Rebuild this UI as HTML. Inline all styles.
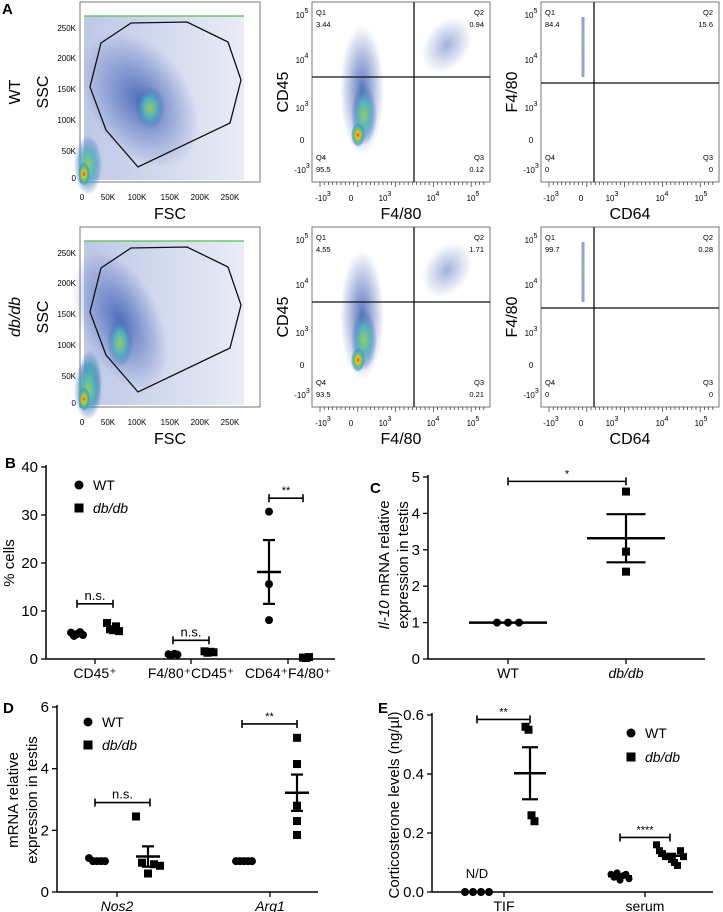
<!DOCTYPE html>
<html><head><meta charset="utf-8">
<style>
html,body{margin:0;padding:0;background:#fff;}
svg{display:block;font-family:"Liberation Sans",Arial,sans-serif;}
</style></head>
<body>
<svg id="fig" width="723" height="912" viewBox="0 0 723 912" xmlns="http://www.w3.org/2000/svg">
<defs>
 <radialGradient id="hot"><stop offset="0" stop-color="#e8241b"/><stop offset="0.25" stop-color="#f2c21a"/><stop offset="0.5" stop-color="#7cc455"/><stop offset="0.75" stop-color="#3aa7c8" stop-opacity="0.8"/><stop offset="1" stop-color="#3a5bb0" stop-opacity="0"/></radialGradient>
 <radialGradient id="warm"><stop offset="0" stop-color="#9acb5a"/><stop offset="0.45" stop-color="#4fb6c0" stop-opacity="0.9"/><stop offset="1" stop-color="#3a5bb0" stop-opacity="0"/></radialGradient>
 <radialGradient id="blue"><stop offset="0" stop-color="#3c5cb5" stop-opacity="0.85"/><stop offset="1" stop-color="#3c5cb5" stop-opacity="0"/></radialGradient>
 <linearGradient id="fscbg" x1="0" y1="0" x2="1" y2="0"><stop offset="0" stop-color="#4a66bb" stop-opacity="0.6"/><stop offset="1" stop-color="#4a66bb" stop-opacity="0.2"/></linearGradient>
 <filter id="blur"><feGaussianBlur stdDeviation="1.5"/></filter>
</defs>
<g id="layer"></g>
</svg>
<script>
const NS="http://www.w3.org/2000/svg";
const root=document.getElementById('layer');
function mk(tag,attrs,parent,txt){const e=document.createElementNS(NS,tag);for(const k in attrs)e.setAttribute(k,attrs[k]);if(txt!==undefined)e.textContent=txt;(parent||root).appendChild(e);return e;}

// ---------- Chart data ----------
const bCategories=["CD45⁺","F4/80⁺CD45⁺","CD64⁺F4/80⁺"];
const bWT=[[5.5,4.8,5.2,5.6,5.0],[1.0,0.8,1.1,0.9],[30.7,15.6,8.1]];
const bDB=[[7.5,6.2,6.0,6.8,5.8],[1.6,1.3,1.5,1.4],[0.3,0.2,0.4]];
const bTicks=[0,10,20,30,40];
const cCategories=["WT","db/db"];
const cValues=[[1,1,1],[4.6,2.95,2.4]];
const cTicks=[0,1,2,3,4,5];
const dCategories=["Nos2","Arg1"];
const dWT=[[1.1,1.0,1.0,1.0,1.0],[1.0,1.0,1.0,1.0,1.0]];
const dDB=[[2.45,0.95,0.6,0.9,0.85],[5.0,4.15,2.8,2.3,1.85]];
const dTicks=[0,2,4,6];
const eCategories=["TIF","serum"];
const eWT=[[0,0,0,0],[0.06,0.05,0.065,0.04,0.055,0.06,0.045]];
const eDB=[[0.56,0.55,0.26,0.24],[0.16,0.14,0.13,0.12,0.12,0.11,0.10,0.09,0.14,0.12]];
const eTicks=[0,0.2,0.4,0.6];

function mean(a){return a.reduce((s,v)=>s+v,0)/a.length;}
function sem(a){const m=mean(a);if(a.length<2)return 0;const v=a.reduce((s,x)=>s+(x-m)*(x-m),0)/(a.length-1);return Math.sqrt(v/a.length);}

function panelLetter(t,x,y){const e=mk('text',{x:x,y:y,'font-size':15,'font-weight':'bold'},root,t);

}

function dotPlot(cfg){
 const g=mk('g',{});
 
 
 const y=v=>cfg.y0-(v-cfg.vmin)/(cfg.vmax-cfg.vmin)*(cfg.y0-cfg.y1);
 mk('line',{x1:cfg.ax,y1:cfg.y1-2,x2:cfg.ax,y2:cfg.y0,stroke:'#000','stroke-width':1.5},g);
 mk('line',{x1:cfg.ax,y1:cfg.y0,x2:cfg.xEnd,y2:cfg.y0,stroke:'#000','stroke-width':1.5},g);
 cfg.ticks.forEach(t=>{const yy=y(t);mk('line',{x1:cfg.ax-5,y1:yy,x2:cfg.ax,y2:yy,stroke:'#000','stroke-width':1.3},g);
  const lab=mk('text',{x:cfg.ax-8,y:yy+5,'font-size':15,'text-anchor':'end'},g,cfg.tickFmt?cfg.tickFmt(t):t);
  });
 cfg.cats.forEach((c,i)=>{const xx=cfg.catX[i];
  mk('line',{x1:xx,y1:cfg.y0,x2:xx,y2:cfg.y0+5,stroke:'#000','stroke-width':1.3},g);
  const t=mk('text',{x:xx,y:cfg.y0+19,'font-size':14,'text-anchor':'middle','font-style':cfg.italicCats&&cfg.italicCats[i]?'italic':'normal'},g,c);
  });
 cfg.groups.forEach(gr=>{
  const vals=gr.vals, cx=gr.x, n=vals.length;
  vals.forEach((v,k)=>{const off=(k-(n-1)/2)*gr.spread;const yy=y(v);
   let m;
   if(gr.shape==='circle'){m=mk('circle',{cx:cx+off,cy:yy,r:gr.size/2,fill:'#000'},g);}
   else{m=mk('rect',{x:cx+off-gr.size/2,y:yy-gr.size/2,width:gr.size,height:gr.size,fill:'#000'},g);}
   
   
  });
  const m=mean(vals),s=sem(vals);
  const ml=mk('line',{x1:cx-gr.mw,y1:y(m),x2:cx+gr.mw,y2:y(m),stroke:'#000','stroke-width':2.5},g);
  
  if(s>0&&gr.mw>0){const ew=gr.mw*0.5;
   mk('line',{x1:cx,y1:y(m+s),x2:cx,y2:y(m-s),stroke:'#000','stroke-width':2.2},g);
   mk('line',{x1:cx-ew,y1:y(m+s),x2:cx+ew,y2:y(m+s),stroke:'#000','stroke-width':2.2},g);
   mk('line',{x1:cx-ew,y1:y(m-s),x2:cx+ew,y2:y(m-s),stroke:'#000','stroke-width':2.2},g);}
 });
 (cfg.sig||[]).forEach(sg=>{const yy=y(sg.v);
  const b=mk('g',{},g);
  
  
  mk('line',{x1:sg.x1,y1:yy,x2:sg.x2,y2:yy,stroke:'#000','stroke-width':1.6},b);
  mk('line',{x1:sg.x1,y1:yy-4,x2:sg.x1,y2:yy+4,stroke:'#000','stroke-width':1.6},b);
  mk('line',{x1:sg.x2,y1:yy-4,x2:sg.x2,y2:yy+4,stroke:'#000','stroke-width':1.6},b);
  mk('text',{x:(sg.x1+sg.x2)/2,y:yy-4,'font-size':sg.t==='n.s.'?13:11,'text-anchor':'middle'},b,sg.t);
 });
 return {g,y};
}
function legend(x,y,gap,parent,name){
 const g=mk('g',{},parent);
 
 
 mk('circle',{cx:x,cy:y,r:4.5,fill:'#000'},g);
 mk('text',{x:x+14,y:y+5,'font-size':14},g,'WT');
 mk('rect',{x:x-4.5,y:y+gap-4.5,width:9,height:9,fill:'#000'},g);
 mk('text',{x:x+14,y:y+gap+5,'font-size':14,'font-style':'italic'},g,'db/db');
}
function yTitle(lines,x,cy,parent,name){
 const t=mk('text',{transform:`translate(${x},${cy}) rotate(-90)`,'font-size':15,'text-anchor':'middle'},parent);
 
 
 lines.forEach((l,i)=>{const ts=mk('tspan',{x:0,dy:i===0?0:19},t);l.forEach(p=>{mk('tspan',{'font-style':p[1]?'italic':'normal'},ts,p[0]);});});
}

// ---------- Panel B ----------
panelLetter('B',5,468);
{const p=dotPlot({name:'panel-b-chart',ax:46,xEnd:335,y0:659,y1:467,vmin:0,vmax:40,ticks:bTicks,cats:bCategories,catX:[95,191,288],
 groups:[{vals:bWT[0],x:77,shape:'circle',size:8,spread:3,mw:0},{vals:bDB[0],x:113,shape:'square',size:8,spread:3,mw:0},
 {vals:bWT[1],x:173,shape:'circle',size:8,spread:3,mw:0},{vals:bDB[1],x:209,shape:'square',size:8,spread:3,mw:0},
 {vals:bWT[2],x:269,shape:'circle',size:8,spread:0,mw:12},{vals:bDB[2],x:306,shape:'square',size:8,spread:3,mw:0}],
 sig:[{x1:77,x2:113,v:11.5,t:'n.s.'},{x1:173,x2:209,v:3.9,t:'n.s.'},{x1:269,x2:303,v:33.5,t:'**'}]});
 legend(79,485,23,p.g,'panel-b-legend');
 yTitle([[['% cells',0]]],14,563,p.g,'panel-b-y-title');}

// ---------- Panel C ----------
panelLetter('C',370,493);
{const p=dotPlot({name:'panel-c-chart',ax:428,xEnd:705,y0:659,y1:477,vmin:0,vmax:5,ticks:cTicks,cats:cCategories,catX:[508,626],italicCats:[false,true],
 groups:[{vals:cValues[0],x:508,shape:'circle',size:8,spread:11,mw:39},{vals:cValues[1],x:626,shape:'square',size:8,spread:0,mw:39}],
 sig:[{x1:508,x2:626,v:4.88,t:'*'}]});
 yTitle([[['Il-10',1],[' mRNA relative',0]],[['expression in testis',0]]],389,565,p.g,'panel-c-y-title');}

// ---------- Panel D ----------
panelLetter('D',3,713);
{const p=dotPlot({name:'panel-d-chart',ax:57,xEnd:318,y0:892,y1:707,vmin:0,vmax:6,ticks:dTicks,cats:dCategories,catX:[117,270],italicCats:[true,true],
 groups:[{vals:dWT[0],x:97,shape:'circle',size:8,spread:4,mw:0},{vals:dDB[0],x:148,shape:'square',size:8,spread:6,mw:12},
 {vals:dWT[1],x:244,shape:'circle',size:8,spread:4,mw:0},{vals:dDB[1],x:297,shape:'square',size:8,spread:0,mw:12}],
 sig:[{x1:95,x2:150,v:2.9,t:'n.s.'},{x1:242,x2:297,v:5.45,t:'**'}]});
 legend(88,722,23,p.g,'panel-d-legend');
 yTitle([[['mRNA relative',0]],[['expression in testis',0]]],18,800,p.g,'panel-d-y-title');}

// ---------- Panel E ----------
panelLetter('E',378,713);
{const p=dotPlot({name:'panel-e-chart',ax:432,xEnd:713,y0:892,y1:715,vmin:0,vmax:0.6,ticks:eTicks,tickFmt:t=>t.toFixed(1),cats:eCategories,catX:[504,645],
 groups:[{vals:eWT[0],x:477,shape:'circle',size:8,spread:8,mw:0},{vals:eDB[0],x:530,shape:'square',size:8,spread:3,mw:16},
 {vals:eWT[1],x:620,shape:'circle',size:7,spread:3,mw:12},{vals:eDB[1],x:670,shape:'square',size:7,spread:3,mw:12}],
 sig:[{x1:477,x2:530,v:0.585,t:'**'},{x1:620,x2:670,v:0.185,t:'****'}]});
 mk('text',{x:477,y:878,'font-size':13,'text-anchor':'middle'},p.g,'N/D');
 legend(631,733,24,p.g,'panel-e-legend');
 yTitle([[['Corticosterone levels (ng/µl)',0]]],399,805,p.g,'panel-e-y-title');}

// ---------- Panel A (flow plots) ----------
panelLetter('A',2,14);
function flowFrame(x0,y0,w,h,name){
 const g=mk('g',{});
 
 
 mk('rect',{x:x0,y:y0,width:w,height:h,fill:'#fff',stroke:'#777','stroke-width':1},g);
 return g;}
function fscPlot(oy,variant,name){
 const g=flowFrame(80,oy+2,180,180,name);
 mk('rect',{x:84,y:oy+16,width:160,height:164,fill:'url(#fscbg)',opacity:0.6},g);
 mk('line',{x1:84,y1:oy+16,x2:244,y2:oy+16,stroke:'#6cc56a','stroke-width':1.5},g);
 if(variant===0){
  mk('ellipse',{cx:140,cy:oy+100,rx:50,ry:75,fill:'url(#blue)',transform:`rotate(-35 140 ${oy+100})`},g);
  mk('ellipse',{cx:150,cy:oy+108,rx:15,ry:22,fill:'url(#warm)'},g);
 }else{
  mk('ellipse',{cx:120,cy:oy+95,rx:40,ry:75,fill:'url(#blue)',transform:`rotate(-25 120 ${oy+95})`},g);
  mk('ellipse',{cx:120,cy:oy+118,rx:13,ry:25,fill:'url(#warm)'},g);
  mk('ellipse',{cx:90,cy:oy+155,rx:12,ry:30,fill:'url(#warm)'},g);
 }
 mk('ellipse',{cx:88,cy:oy+165,rx:14,ry:30,fill:'url(#warm)'},g);
 mk('ellipse',{cx:84,cy:oy+174,rx:6,ry:12,fill:'url(#hot)'},g);
 const gate=[[138,167],[106,130],[90,87],[101,43],[131,23],[187,22],[228,42],[241,80],[230,123]];
 const gp=mk('polygon',{points:gate.map(p=>p[0]+','+(p[1]+oy)).join(' '),fill:'none',stroke:'#111','stroke-width':1.3},g);
 
 
 const yl=['250K','200K','150K','100K','50K','0'],yy=[28,58,89,120,151,178];
 yl.forEach((l,i)=>mk('text',{x:76,y:oy+yy[i]+3,'font-size':8,'text-anchor':'end'},g,l));
 const xl=['0','50K','100K','150K','200K','250K'],xx=[82,108,137,170,200,230];
 xl.forEach((l,i)=>mk('text',{x:xx[i],y:oy+200,'font-size':8,'text-anchor':'middle'},g,l));
 mk('text',{x:170,y:oy+219,'font-size':16,'text-anchor':'middle'},g,'FSC');
 mk('text',{transform:`translate(48,${oy+92}) rotate(-90)`,'font-size':16,'text-anchor':'middle'},g,'SSC');
}
function supText(g,x,y,base,exp){const t=mk('text',{x:x,y:y,'font-size':8,'text-anchor':'middle'},g,base);
 if(exp)mk('tspan',{dy:-5,'font-size':7},t,exp);}
function qPlot(x0,oy,hx,hy,q,xl,variant,name){
 const g=flowFrame(x0,oy+2,178,180,name);
 if(variant==='cd45'){
  mk('ellipse',{cx:x0+50,cy:oy+90,rx:22,ry:65,fill:'url(#blue)'},g);
  mk('ellipse',{cx:x0+52,cy:oy+115,rx:13,ry:30,fill:'url(#warm)'},g);
  mk('ellipse',{cx:x0+46,cy:oy+135,rx:7,ry:12,fill:'url(#hot)'},g);
  mk('ellipse',{cx:x0+135,cy:oy+45,rx:22,ry:30,fill:'url(#blue)',opacity:0.55,transform:`rotate(35 ${x0+135} ${oy+45})`},g);
 }else{
  mk('rect',{x:x0+40.5,y:oy+17,width:3,height:60,fill:'#4a66bb',opacity:0.6},g);
  mk('rect',{x:x0+41,y:oy+35,width:2,height:15,fill:'#8cc66a',opacity:0.7},g);
 }
 mk('line',{x1:x0,y1:oy+hy,x2:x0+178,y2:oy+hy,stroke:'#111','stroke-width':1.3},g);
 mk('line',{x1:hx,y1:oy+2,x2:hx,y2:oy+182,stroke:'#111','stroke-width':1.3},g);
 const fs=7.5;
 mk('text',{x:x0+4,y:oy+15,'font-size':fs},g,'Q1');mk('text',{x:x0+4,y:oy+27,'font-size':fs},g,q[0]);
 mk('text',{x:x0+172,y:oy+15,'font-size':fs,'text-anchor':'end'},g,'Q2');mk('text',{x:x0+172,y:oy+27,'font-size':fs,'text-anchor':'end'},g,q[1]);
 mk('text',{x:x0+4,y:oy+160,'font-size':fs},g,'Q4');mk('text',{x:x0+4,y:oy+172,'font-size':fs},g,q[3]);
 mk('text',{x:x0+172,y:oy+160,'font-size':fs,'text-anchor':'end'},g,'Q3');mk('text',{x:x0+172,y:oy+172,'font-size':fs,'text-anchor':'end'},g,q[2]);
 [[15,'10','5'],[60,'10','4'],[108,'10','3'],[140,'0',''],[170,'-10','3']].forEach(t=>supText(g,x0-10,oy+t[0]+3,t[1],t[2]));
 for(let i=0;i<40;i++){const tx=x0+8+i*4.2;mk('line',{x1:tx,y1:oy+182,x2:tx,y2:oy+(i%9===0?187:185),stroke:'#333','stroke-width':0.7},g);}
 xl.forEach(t=>supText(g,t[0],oy+201,t[1],t[2]));
 mk('text',{x:x0+89,y:oy+219,'font-size':16,'text-anchor':'middle'},g,variant==='cd45'?'F4/80':'CD64');
 mk('text',{transform:`translate(${x0-24},${oy+92}) rotate(-90)`,'font-size':16,'text-anchor':'middle'},g,variant==='cd45'?'CD45':'F4/80');
}
const x2=[[323,'-10','3'],[351,'0',''],[385,'10','3'],[433,'10','4'],[473,'10','5']];
const x3=[[551,'-10','3'],[581,'0',''],[612,'10','3'],[662,'10','4'],[701,'10','5']];
fscPlot(0,0,'fsc-ssc-plot-wt');
fscPlot(225,1,'fsc-ssc-plot-dbdb');
qPlot(312,0,414,77,['3.44','0.94','0.12','95.5'],x2,'cd45','cd45-f480-plot-wt');
qPlot(312,225,414,77,['4.55','1.71','0.21','93.5'],x2,'cd45','cd45-f480-plot-dbdb');
qPlot(541,0,594,83,['84.4','15.6','0','0'],x3,'f480','f480-cd64-plot-wt');
qPlot(541,225,594,83,['99.7','0.28','0','0'],x3,'f480','f480-cd64-plot-dbdb');
{const t=mk('text',{transform:'translate(20,92) rotate(-90)','font-size':16,'text-anchor':'middle'},root,'WT');

const t2=mk('text',{transform:'translate(20,317) rotate(-90)','font-size':16,'text-anchor':'middle','font-style':'italic'},root,'db/db');
}
</script>
</body></html>
